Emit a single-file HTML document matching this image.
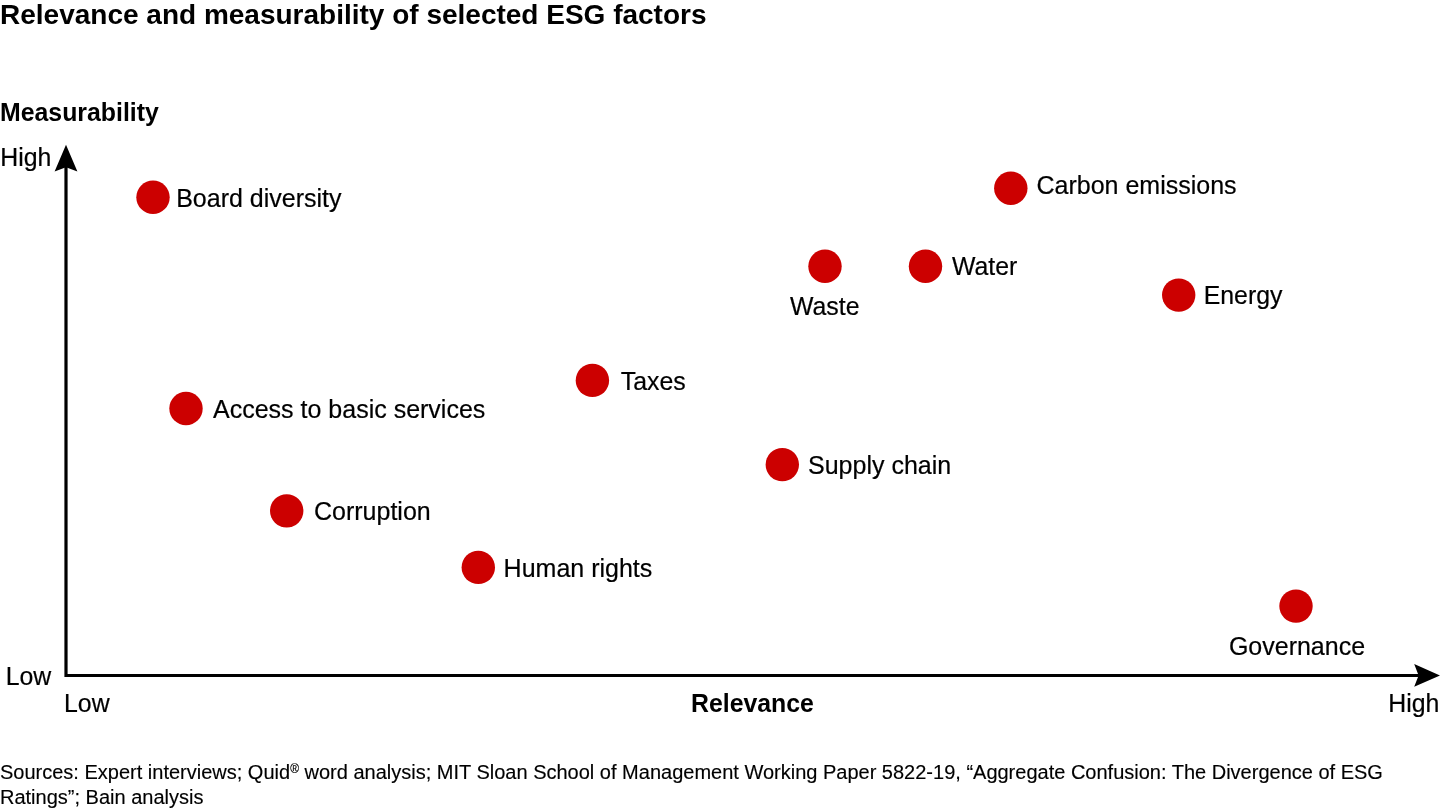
<!DOCTYPE html>
<html>
<head>
<meta charset="utf-8">
<title>Relevance and measurability of selected ESG factors</title>
<style>
html,body{margin:0;padding:0;background:#fff;}
body{width:1440px;height:810px;overflow:hidden;font-family:"Liberation Sans",sans-serif;}
svg{display:block;position:absolute;left:0;top:0;will-change:transform;}
text{font-family:"Liberation Sans",sans-serif;fill:#000;}
.t{font-size:28px;font-weight:bold;}
.b{font-size:24.85px;font-weight:bold;}
.l{font-size:24.85px;stroke:#000;stroke-width:0.2px;}
.g{font-size:25px;stroke:#000;stroke-width:0.2px;}
.s{font-size:20px;stroke:#000;stroke-width:0.15px;}
.dot{fill:#cc0000;}
</style>
</head>
<body>
<svg width="1440" height="810" viewBox="0 0 1440 810">
  <text class="t" x="0" y="24">Relevance and measurability of selected ESG factors</text>
  <text class="b" x="0" y="121">Measurability</text>
  <text class="l" x="0.3" y="166">High</text>
  <text class="l" x="5.7" y="685">Low</text>
  <text class="l" x="64" y="712">Low</text>
  <text class="l" x="1388.2" y="712">High</text>
  <text class="b" x="691" y="712">Relevance</text>

  <!-- axes -->
  <path d="M66 165 V675.5 H1420" fill="none" stroke="#000" stroke-width="3.2" stroke-linejoin="miter"/>
  <path d="M66 144.8 L77.4 171.5 L66 167.2 L54.6 171.5 Z" fill="#000"/>
  <path d="M1440 675.4 L1414.2 664 L1418.6 675.4 L1414.2 686.7 Z" fill="#000"/>

  <!-- points -->
  <circle class="dot" cx="153" cy="197.3" r="16.7"/>
  <text class="g" x="176.2" y="207">Board diversity</text>
  <circle class="dot" cx="1010.8" cy="188.2" r="16.7"/>
  <text class="g" x="1036.5" y="194">Carbon emissions</text>
  <circle class="dot" cx="825" cy="266.3" r="16.7"/>
  <text class="l" x="790" y="315">Waste</text>
  <circle class="dot" cx="925.5" cy="266.3" r="16.7"/>
  <text class="l" x="952" y="275">Water</text>
  <circle class="dot" cx="1178.7" cy="295.1" r="16.7"/>
  <text class="l" x="1203.7" y="304">Energy</text>
  <circle class="dot" cx="592.4" cy="380.4" r="16.7"/>
  <text class="l" x="620.8" y="390">Taxes</text>
  <circle class="dot" cx="186" cy="408.5" r="16.7"/>
  <text class="g" x="213" y="418">Access to basic services</text>
  <circle class="dot" cx="782.3" cy="464.6" r="16.7"/>
  <text class="g" x="808" y="474">Supply chain</text>
  <circle class="dot" cx="286.7" cy="510.9" r="16.7"/>
  <text class="g" x="314" y="520">Corruption</text>
  <circle class="dot" cx="478.3" cy="567.4" r="16.7"/>
  <text class="g" x="503.6" y="577">Human rights</text>
  <circle class="dot" cx="1296" cy="606.1" r="16.7"/>
  <text class="g" x="1228.9" y="655">Governance</text>

  <text class="s" x="0" y="779.4">Sources: Expert interviews; Quid<tspan font-size="11.9" dy="-6.4">®</tspan><tspan dy="6.4" dx="0.1"> word analysis; MIT Sloan School of Management Working Paper 5822-19, “Aggregate Confusion: The Divergence of ESG</tspan></text>
  <text class="s" x="0" y="804.4">Ratings”; Bain analysis</text>
</svg>
</body>
</html>
